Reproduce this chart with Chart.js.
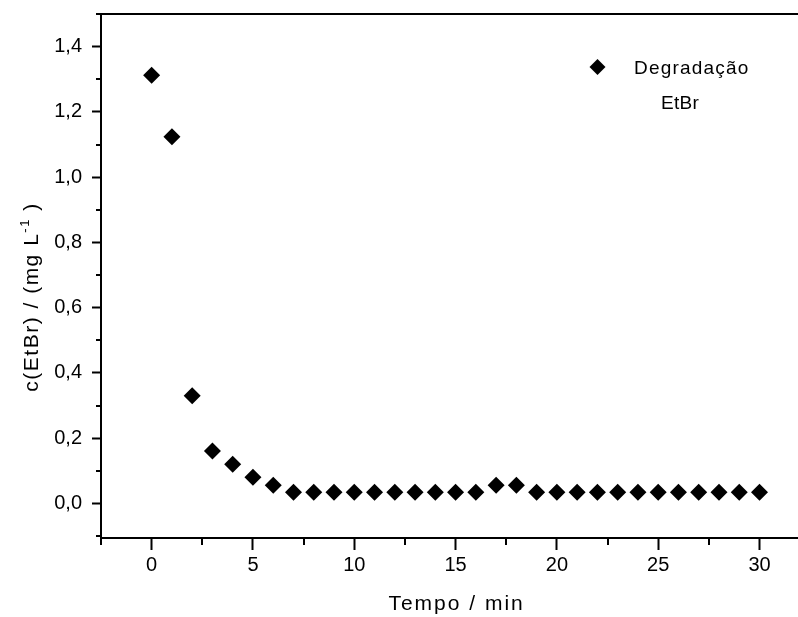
<!DOCTYPE html>
<html>
<head>
<meta charset="utf-8">
<script src="https://cdn.jsdelivr.net/npm/chart.js@4"></script>
<style>
  html, body { margin: 0; padding: 0; background: #fff; overflow: hidden; }
  #wrap { width: 798px; height: 617px; position: relative; }
</style>
</head>
<body>
<div id="wrap"><canvas id="grafico"></canvas></div>
<script>
// Dados
const tempo = [0, 1, 2, 3, 4, 5, 6, 7, 8, 9, 10, 11, 12, 13, 14, 15,
               16, 17, 18, 19, 20, 21, 22, 23, 24, 25, 26, 27, 28, 29, 30];
const concentracao = [1.312, 1.124, 0.330, 0.161, 0.120, 0.080, 0.056, 0.034, 0.034, 0.034, 0.034,
                      0.034, 0.034, 0.034, 0.034, 0.034, 0.034, 0.056, 0.056, 0.034, 0.034,
                      0.034, 0.034, 0.034, 0.034, 0.034, 0.034, 0.034, 0.034, 0.034, 0.034];
const xTicks = [0, 5, 10, 15, 20, 25, 30];
const xMinorTicks = [-2.5, 2.5, 7.5, 12.5, 17.5, 22.5, 27.5];
const yTicks = [0, 0.2, 0.4, 0.6, 0.8, 1.0, 1.2, 1.4];
const yMinorTicks = [-0.1, 0.1, 0.3, 0.5, 0.7, 0.9, 1.1, 1.3, 1.5];
const nomeSerie = ['Degradação', 'EtBr'];

const FONTE = '"Liberation Sans", Arial, sans-serif';

// tira o espaço extra que o Chart.js reserva para os rótulos
function semPadding(s) {
  s.paddingLeft = 0;
  s.paddingRight = 0;
  s.paddingTop = 0;
  s.paddingBottom = 0;
}

// Moldura superior, ticks menores, legenda e títulos dos eixos
const extras = {
  id: 'extras',
  afterDraw(chart) {
    const ctx = chart.ctx;
    const area = chart.chartArea;
    const xs = chart.scales.x;
    const ys = chart.scales.y;
    ctx.save();
    ctx.strokeStyle = '#000';
    ctx.lineWidth = 2;
    ctx.beginPath();
    ctx.moveTo(area.left - 1, area.top);
    ctx.lineTo(area.right, area.top);
    ctx.stroke();

    // ticks menores
    xMinorTicks.forEach(v => {
      const x = Math.round(xs.getPixelForValue(v));
      ctx.beginPath();
      ctx.moveTo(x, area.bottom);
      ctx.lineTo(x, area.bottom + 7);
      ctx.stroke();
    });
    yMinorTicks.forEach(v => {
      const y = Math.round(ys.getPixelForValue(v));
      ctx.beginPath();
      ctx.moveTo(area.left, y);
      ctx.lineTo(area.left - 5, y);
      ctx.stroke();
    });

    // legenda
    const lx = 597.5, ly = 67, r = 8;
    ctx.fillStyle = '#000';
    ctx.beginPath();
    ctx.moveTo(lx, ly - r);
    ctx.lineTo(lx + r, ly);
    ctx.lineTo(lx, ly + r);
    ctx.lineTo(lx - r, ly);
    ctx.closePath();
    ctx.fill();
    ctx.font = '19px ' + FONTE;
    ctx.textAlign = 'left';
    ctx.textBaseline = 'alphabetic';
    ctx.letterSpacing = '1.2px';
    ctx.fillText(nomeSerie[0], 634, 74);
    ctx.letterSpacing = '0.3px';
    ctx.fillText(nomeSerie[1], 661, 109);

    // título eixo x
    ctx.font = '21px ' + FONTE;
    ctx.letterSpacing = '2px';
    ctx.textAlign = 'center';
    ctx.fillText('Tempo / min', xs.getPixelForValue(15) + 1, 610);

    // título eixo y (com expoente)
    ctx.translate(37.5, 297);
    ctx.rotate(-Math.PI / 2);
    ctx.textAlign = 'left';
    ctx.letterSpacing = '1.5px';
    const p1 = 'c(EtBr) / (mg L';
    const p2 = '-1';
    const p3 = ' )';
    ctx.font = '21px ' + FONTE;
    const w1 = ctx.measureText(p1).width;
    const w3 = ctx.measureText(p3).width;
    ctx.font = '13px ' + FONTE;
    const w2 = ctx.measureText(p2).width;
    const total = w1 + w2 + w3;
    let cx = -total / 2;
    ctx.font = '21px ' + FONTE;
    ctx.fillText(p1, cx, 0);
    cx += w1;
    ctx.font = '13px ' + FONTE;
    ctx.fillText(p2, cx, -9);
    cx += w2;
    ctx.font = '21px ' + FONTE;
    ctx.fillText(p3, cx, 0);
    ctx.restore();
  }
};

new Chart(document.getElementById('grafico'), {
  type: 'scatter',
  data: {
    datasets: [{
      label: nomeSerie.join(' '),
      data: tempo.map((t, i) => ({ x: t, y: concentracao[i] })),
      pointStyle: 'rectRot',
      pointRadius: 8.5,
      pointHoverRadius: 8.5,
      backgroundColor: '#000',
      borderColor: '#000',
      borderWidth: 0
    }]
  },
  options: {
    responsive: true,
    maintainAspectRatio: false,
    animation: false,
    events: [],
    layout: { autoPadding: false, padding: { top: 14, right: 0, left: 0, bottom: 0 } },
    plugins: {
      legend: { display: false },
      tooltip: { enabled: false }
    },
    scales: {
      x: {
        type: 'linear',
        min: -2.5,
        max: 31.9,
        afterBuildTicks: s => { s.ticks = xTicks.map(v => ({ value: v })); },
        afterFit: s => { s.height = 79; semPadding(s); },
        grid: {
          drawOnChartArea: false,
          drawTicks: true,
          tickLength: 12,
          tickWidth: 2,
          tickColor: '#000'
        },
        border: { display: true, color: '#000', width: 2 },
        ticks: {
          color: '#000',
          padding: 3,
          maxRotation: 0,
          font: { family: FONTE, size: 20 },
          callback: v => String(v)
        }
      },
      y: {
        min: -0.106,
        max: 1.5,
        afterBuildTicks: s => { s.ticks = yTicks.map(v => ({ value: v })); },
        afterFit: s => { s.width = 101; semPadding(s); },
        grid: {
          drawOnChartArea: false,
          drawTicks: true,
          tickLength: 9,
          tickWidth: 2,
          tickColor: '#000'
        },
        border: { display: true, color: '#000', width: 2 },
        ticks: {
          color: '#000',
          padding: 10,
          font: { family: FONTE, size: 20 },
          callback: v => v.toFixed(1).replace('.', ',')
        }
      }
    }
  },
  plugins: [extras]
});
</script>
</body>
</html>
